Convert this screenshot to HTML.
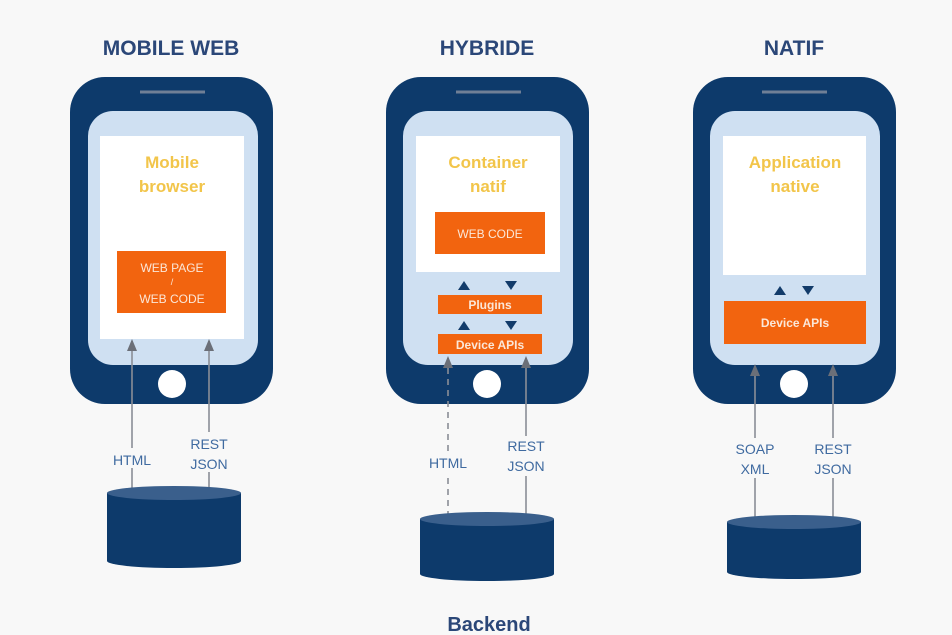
<!DOCTYPE html>
<html><head><meta charset="utf-8"><style>
html,body{margin:0;padding:0;background:#f8f8f8}
svg{display:block}
text{font-family:"Liberation Sans",Arial,sans-serif}
</style></head><body>
<svg width="952" height="635" viewBox="0 0 952 635" xmlns="http://www.w3.org/2000/svg">
<defs>
<marker id="ah" markerWidth="12" markerHeight="10" refX="10" refY="5" orient="auto" markerUnits="userSpaceOnUse"><path d="M0,0 L12,5 L0,10 Z" fill="#6b6f78"/></marker>
</defs>
<rect width="952" height="635" fill="#f8f8f8"/>
<g font-weight="bold" font-size="21" fill="#2b4778" text-anchor="middle">
<text x="171" y="55">MOBILE WEB</text>
<text x="487" y="55">HYBRIDE</text>
<text x="794" y="55">NATIF</text>
<text x="489" y="631" font-size="20">Backend</text>
</g>
<g fill="#0d3a6b">
<rect x="70" y="77" width="203" height="327" rx="35"/>
<rect x="386" y="77" width="203" height="327" rx="35"/>
<rect x="693" y="77" width="203" height="327" rx="35"/>
</g>
<g stroke="#6f7f96" stroke-width="3">
<line x1="140" y1="92" x2="205" y2="92"/><line x1="456" y1="92" x2="521" y2="92"/><line x1="762" y1="92" x2="827" y2="92"/>
</g>
<g fill="#cfe0f2">
<rect x="88" y="111" width="170" height="254" rx="25"/>
<rect x="403" y="111" width="170" height="254" rx="25"/>
<rect x="710" y="111" width="170" height="254" rx="25"/>
</g>
<g fill="#ffffff">
<rect x="100" y="136" width="144" height="203"/>
<rect x="416" y="136" width="144" height="136"/>
<rect x="723" y="136" width="143" height="139"/>
<circle cx="172" cy="384" r="14"/><circle cx="487" cy="384" r="14"/><circle cx="794" cy="384" r="14"/>
</g>
<g font-weight="bold" font-size="17" fill="#f2c54a" text-anchor="middle">
<text x="172" y="168">Mobile</text><text x="172" y="192">browser</text>
<text x="488" y="168">Container</text><text x="488" y="192">natif</text>
<text x="795" y="168">Application</text><text x="795" y="192">native</text>
</g>
<g fill="#f2640f">
<rect x="117" y="251" width="109" height="62"/>
<rect x="435" y="212" width="110" height="42"/>
<rect x="438" y="295" width="104" height="19"/>
<rect x="438" y="334" width="104" height="20"/>
<rect x="724" y="301" width="142" height="43"/>
</g>
<g fill="#fbe7d8" font-size="12" text-anchor="middle">
<text x="172" y="272">WEB PAGE</text><text x="172" y="285" font-size="9">/</text><text x="172" y="303">WEB CODE</text>
<text x="490" y="238">WEB CODE</text>
<text x="490" y="309" font-weight="bold">Plugins</text>
<text x="490" y="349" font-weight="bold">Device APIs</text>
<text x="795" y="327" font-weight="bold">Device APIs</text>
</g>
<g fill="#123b6a">
<path d="M458,290 L470,290 L464,281 Z"/><path d="M505,281 L517,281 L511,290 Z"/>
<path d="M458,330 L470,330 L464,321 Z"/><path d="M505,321 L517,321 L511,330 Z"/>
<path d="M774,295 L786,295 L780,286 Z"/><path d="M802,286 L814,286 L808,295 Z"/>
</g>
<g stroke="#8a8e96" stroke-width="1.6" fill="none">
<line x1="132" y1="492" x2="132" y2="341" marker-end="url(#ah)"/>
<line x1="209" y1="492" x2="209" y2="341" marker-end="url(#ah)"/>
<line x1="448" y1="517" x2="448" y2="358" stroke-dasharray="6,5" marker-end="url(#ah)"/>
<line x1="526" y1="517" x2="526" y2="358" marker-end="url(#ah)"/>
<line x1="755" y1="520" x2="755" y2="366" marker-end="url(#ah)"/>
<line x1="833" y1="520" x2="833" y2="366" marker-end="url(#ah)"/>
</g>
<g font-size="14" fill="#3f6aa0" text-anchor="middle">
<rect x="108" y="448" width="48" height="20" fill="#f8f8f8"/>
<text x="132" y="465">HTML</text>
<rect x="186" y="432" width="46" height="40" fill="#f8f8f8"/>
<text x="209" y="449">REST</text><text x="209" y="469">JSON</text>
<rect x="424" y="453" width="48" height="20" fill="#f8f8f8"/>
<text x="448" y="468">HTML</text>
<rect x="503" y="436" width="46" height="40" fill="#f8f8f8"/>
<text x="526" y="451">REST</text><text x="526" y="471">JSON</text>
<rect x="730" y="438" width="50" height="40" fill="#f8f8f8"/>
<text x="755" y="454">SOAP</text><text x="755" y="474">XML</text>
<rect x="810" y="438" width="46" height="40" fill="#f8f8f8"/>
<text x="833" y="454">REST</text><text x="833" y="474">JSON</text>
</g>
<g>
<path d="M107,493 L107,561 A67,7 0 0 0 241,561 L241,493 Z" fill="#0d3a6b"/>
<ellipse cx="174" cy="493" rx="67" ry="7" fill="#3a5f8c"/>
<path d="M420,519 L420,574 A67,7 0 0 0 554,574 L554,519 Z" fill="#0d3a6b"/>
<ellipse cx="487" cy="519" rx="67" ry="7" fill="#3a5f8c"/>
<path d="M727,522 L727,572 A67,7 0 0 0 861,572 L861,522 Z" fill="#0d3a6b"/>
<ellipse cx="794" cy="522" rx="67" ry="7" fill="#3a5f8c"/>
</g>
</svg>
</body></html>
